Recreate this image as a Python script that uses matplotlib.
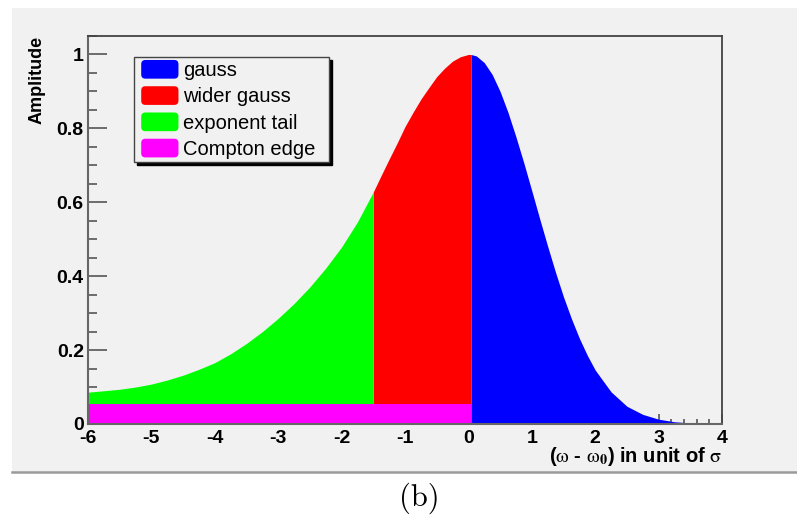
import matplotlib
matplotlib.use('Agg')
import matplotlib.pyplot as plt
import matplotlib.patches as mpatches
from matplotlib.legend_handler import HandlerPatch
from matplotlib.lines import Line2D
from matplotlib.ticker import MultipleLocator

plt.rcParams['font.family'] = ['Liberation Sans', 'DejaVu Sans']
plt.rcParams['mathtext.fontset'] = 'stix'
plt.rcParams['axes.unicode_minus'] = False

# values
gauss_x = [0.04, 0.125, 0.25, 0.375, 0.5, 0.625, 0.75, 0.875, 1.0, 1.125, 1.25, 1.375,
           1.5, 1.625, 1.75, 1.875, 2.0, 2.25, 2.5, 2.75, 3.0, 3.25, 3.5, 3.75, 4.0]
gauss_y = [1.000, 0.996, 0.978, 0.946, 0.900, 0.843, 0.777, 0.706, 0.631, 0.555, 0.481, 0.410,
           0.344, 0.285, 0.232, 0.186, 0.146, 0.087, 0.048, 0.026, 0.013, 0.006, 0.003, 0.001, 0.0005]

wide_x = [-1.5, -1.375, -1.25, -1.125, -1.0, -0.875, -0.75, -0.625, -0.5, -0.375, -0.25, -0.125, 0.0, 0.04]
wide_y = [0.628, 0.673, 0.717, 0.760, 0.805, 0.843, 0.879, 0.910, 0.940, 0.963, 0.982, 0.994, 1.0, 1.0]

tail_x = [-6.0, -5.75, -5.5, -5.25, -5.0, -4.75, -4.5, -4.25, -4.0, -3.75, -3.5, -3.25,
          -3.0, -2.75, -2.5, -2.25, -2.0, -1.75, -1.5]
tail_y = [0.086, 0.090, 0.094, 0.100, 0.108, 0.119, 0.132, 0.148, 0.166, 0.190, 0.218, 0.250,
          0.286, 0.326, 0.371, 0.422, 0.479, 0.547, 0.628]

edge_x = [-6.0, 0.04]
edge_y = [0.054, 0.054]

labels = ['gauss', 'wider gauss', 'exponent tail', 'Compton edge']
colors = ['#0000ff', '#ff0000', '#00ff00', '#ff00ff']

bg = '#f1f1f1'

fig = plt.figure(figsize=(7.97, 5.21), dpi=100)
fig.patch.set_facecolor('white')

# grey canvas behind the pad
fig.add_artist(mpatches.Rectangle((0.0151, 0.094), 0.985, 0.8906, transform=fig.transFigure,
                                  facecolor=bg, edgecolor='none', zorder=-5))
fig.add_artist(Line2D([0.0151, 1.0], [0.094, 0.094], transform=fig.transFigure,
                      color='#9a9a9a', lw=1.8))

ax = fig.add_axes([0.1104, 0.1862, 0.7955, 0.7447])
ax.set_facecolor(bg)
ax.set_axisbelow(True)

ax.fill_between(gauss_x, 0, gauss_y, color=colors[0], lw=0)
ax.fill_between(wide_x, 0, wide_y, color=colors[1], lw=0)
ax.fill_between(tail_x, edge_y[0], tail_y, color=colors[2], lw=0)
ax.fill_between(edge_x, 0, edge_y, color=colors[3], lw=0)

ax.set_xlim(-6, 4)
ax.set_ylim(0, 1.05)

ax.xaxis.set_major_locator(MultipleLocator(1))
ax.xaxis.set_minor_locator(MultipleLocator(0.2))
ax.yaxis.set_major_locator(MultipleLocator(0.2))
ax.yaxis.set_minor_locator(MultipleLocator(0.05))
ax.set_yticks([0, 0.2, 0.4, 0.6, 0.8, 1.0])
ax.set_yticklabels(['0', '0.2', '0.4', '0.6', '0.8', '1'])

ax.tick_params(axis='both', which='both', direction='in', colors='#555555', width=1.2,
               labelcolor='black', labelsize=14, top=False, right=False)
ax.tick_params(axis='y', which='major', length=13.7, pad=3)
ax.tick_params(axis='y', which='minor', length=6.5)
ax.tick_params(axis='x', which='major', length=7.2, pad=4)
ax.tick_params(axis='x', which='minor', length=3.6)
for lab in ax.get_xticklabels() + ax.get_yticklabels():
    lab.set_fontweight('bold')

for side in ['left', 'bottom']:
    ax.spines[side].set_color('#666666')
    ax.spines[side].set_linewidth(1.5)
for side in ['top', 'right']:
    ax.spines[side].set_color('#444444')
    ax.spines[side].set_linewidth(1.3)

ax.text(-0.080, 1.0, 'Amplitude', rotation=90, ha='center', va='top', fontsize=13,
        fontweight='bold', transform=ax.transAxes)
ax.text(1.0, -0.084, r'($\mathrm{\omega}$ - $\mathrm{\omega}_{\mathbf{0}}$) in unit of $\mathrm{\sigma}$',
        ha='right', va='center', fontsize=14.5, fontweight='bold', transform=ax.transAxes)


def rounded_patch(legend, orig_handle, xdescent, ydescent, width, height, fontsize):
    return mpatches.FancyBboxPatch((-xdescent + 3, -ydescent), width, height,
                                   boxstyle='round,pad=0,rounding_size=3')


handles = [mpatches.Patch(facecolor=c, edgecolor='none') for c in colors]
leg = ax.legend(handles, labels, loc='upper left', bbox_to_anchor=(0.0726, 0.5, 0.3076, 0.446),
                mode='expand', borderaxespad=0, fancybox=False,
                shadow={'color': 'black', 'alpha': 1}, fontsize=14.5,
                handlelength=1.85, handleheight=1.05, handletextpad=0.45,
                labelspacing=0.3, borderpad=0.15,
                handler_map={mpatches.Patch: HandlerPatch(patch_func=rounded_patch)})
leg.get_frame().set_edgecolor('#444444')
leg.get_frame().set_facecolor(bg)
leg.get_frame().set_linewidth(1.0)

fig.text(0.526, 0.044, '(b)', ha='center', va='center', fontsize=22, family='cmr10')

fig.savefig('out.png', dpi=100)
